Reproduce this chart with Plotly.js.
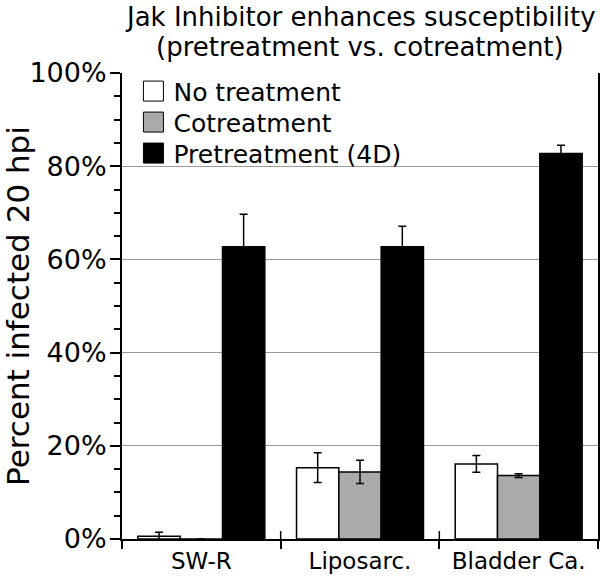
<!DOCTYPE html>
<html>
<head>
<meta charset="utf-8">
<script src="https://cdn.plot.ly/plotly-3.0.1.min.js"></script>
<style>
  html, body { margin: 0; padding: 0; background: #fff; }
  #chart { width: 600px; height: 583px; }
</style>
</head>
<body>
<div id="chart"></div>
<script>
const categories = ['SW-R', 'Liposarc.', 'Bladder Ca.'];
const noTreatment = [0.6, 15.3, 16.1];
const noTreatmentErr = [0.85, 3.2, 1.8];
const cotreatment = [0, 14.4, 13.6];
const cotreatmentErr = [0, 2.5, 0.4];
const pretreatment = [62.7, 62.7, 82.7];
const pretreatmentErr = [7.0, 4.4, 1.8];
const titleLines = ['Jak Inhibitor enhances susceptibility', '(pretreatment vs. cotreatment)'];

const font = 'DejaVu Sans, sans-serif';

function barTrace(name, y, err, fill) {
  return {
    type: 'bar', name: name, x: categories, y: y,
    marker: { color: fill, line: { color: '#000', width: 1.5 } },
    error_y: { type: 'data', array: err, visible: true, color: '#000', thickness: 1.5, width: 4 }
  };
}

const data = [
  barTrace('No treatment', noTreatment, noTreatmentErr, '#ffffff'),
  barTrace('Cotreatment', cotreatment, cotreatmentErr, '#aaaaaa'),
  barTrace('Pretreatment (4D)', pretreatment, pretreatmentErr, '#000000')
];

// title as two annotations so the line spacing can match
const titleAnnots = titleLines.map((t, i) => ({
  text: t, xref: 'paper', yref: 'paper', x: 0.5, y: 1, xanchor: 'center', yanchor: 'middle',
  yshift: 56 - i * 30, showarrow: false, font: { size: 26, family: font }
}));

const layout = {
  width: 600, height: 583,
  margin: { l: 122, r: 2, t: 73, b: 44 },
  paper_bgcolor: '#fff', plot_bgcolor: '#fff',
  font: { family: font, color: '#000' },
  barmode: 'group', bargap: 0.2, bargroupgap: 0,
  showlegend: true,
  legend: {
    x: 0.024, y: 1.01, xanchor: 'left', yanchor: 'top',
    bgcolor: 'rgba(0,0,0,0)', font: { size: 25, family: font },
    traceorder: 'normal'
  },
  xaxis: {
    showline: true, linecolor: '#000', linewidth: 2,
    ticks: 'outside', tickson: 'boundaries', ticklen: 8, tickwidth: 1.5, tickcolor: '#000',
    tickfont: { size: 23, family: font }, showgrid: false
  },
  yaxis: {
    range: [0, 100], dtick: 20, ticksuffix: '%',
    showline: true, linecolor: '#000', linewidth: 2, mirror: true,
    ticks: 'outside', ticklen: 10, tickwidth: 1.5, tickcolor: '#000',
    tickfont: { size: 27, family: font }, ticklabelstandoff: -2,
    showgrid: true, gridcolor: '#999', gridwidth: 1, zeroline: false,
    minor: { dtick: 5, ticks: 'outside', ticklen: 6, tickcolor: '#000', tickwidth: 1.5, showgrid: false },
    title: { text: 'Percent infected 20 hpi', font: { size: 31, family: font }, standoff: 8 }
  },
  annotations: titleAnnots,
  shapes: [0.5, 1.5].map(b => ({
    type: 'line', xref: 'x', yref: 'paper', x0: b, x1: b, y0: 0, y1: 0.017,
    line: { color: '#000', width: 1.5 }
  }))
};

Plotly.newPlot('chart', data, layout, { displayModeBar: false }).then(() => {
  // bigger legend swatches, as in the reference
  document.querySelectorAll('.legendpoints path').forEach(p => {
    p.setAttribute('d', 'M10,10H-10V-10H10Z');
    p.style.strokeWidth = '1px';
  });
  // tighter legend rows (about 31px apart)
  const rows = document.querySelectorAll('.legend .traces');
  let y0 = null;
  rows.forEach((g, i) => {
    const m = /translate\(([-\d.]+),\s*([-\d.]+)\)/.exec(g.getAttribute('transform') || '');
    if (!m) return;
    if (y0 === null) y0 = parseFloat(m[2]);
    g.setAttribute('transform', 'translate(' + m[1] + ',' + (y0 + i * 31) + ')');
  });
});
</script>
</body>
</html>
